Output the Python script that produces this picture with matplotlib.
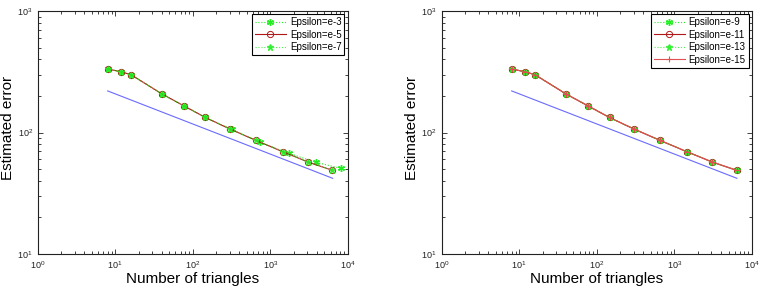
import matplotlib
matplotlib.use('Agg')
import matplotlib.pyplot as plt
from matplotlib.ticker import LogLocator, NullFormatter

plt.rcParams['font.family'] = ['Liberation Sans', 'DejaVu Sans']
plt.rcParams['mathtext.fontset'] = 'custom'
plt.rcParams['mathtext.rm'] = 'Liberation Sans'

# number of triangles / estimated error
tri = [8, 12, 16, 40, 78, 146, 300, 660, 1450, 3080, 6330]
err = [333, 316, 299, 208, 165, 133, 107, 86, 69.5, 57.2, 48.9]

# epsilon=e-3 run ends on slightly different meshes
tri_e3 = [8, 12, 16, 40, 78, 146, 320, 740, 1730, 3870, 8100]
err_e3 = [333, 316, 299, 208, 165, 133, 106, 83, 67.5, 57, 50.7]

# reference slope line
ref_tri = [8, 6400]
ref_err = [220, 42]

left_labels = ['Epsilon=e-3', 'Epsilon=e-5', 'Epsilon=e-7']
right_labels = ['Epsilon=e-9', 'Epsilon=e-11', 'Epsilon=e-13', 'Epsilon=e-15']

green = '#22ee22'
dred = '#b01818'
lred = '#e05050'
blue = '#6a6aff'
asterisk = (6, 2, 0)


def styleAxes(ax):
    ax.set_xscale('log')
    ax.set_yscale('log')
    ax.set_xlim(1, 1e4)
    ax.set_ylim(10, 1000)
    ax.xaxis.set_major_locator(LogLocator(base=10, numticks=10))
    ax.yaxis.set_major_locator(LogLocator(base=10, numticks=10))
    ax.xaxis.set_minor_locator(LogLocator(base=10, subs=range(2, 10), numticks=20))
    ax.yaxis.set_minor_locator(LogLocator(base=10, subs=range(2, 10), numticks=20))
    ax.xaxis.set_minor_formatter(NullFormatter())
    ax.yaxis.set_minor_formatter(NullFormatter())
    ax.tick_params(which='both', direction='in', top=True, right=True,
                   labelsize=6.5, colors='#222222', width=0.6)
    ax.tick_params(which='major', length=3.5)
    ax.tick_params(which='minor', length=2)
    for s in ax.spines.values():
        s.set_linewidth(0.8)
        s.set_color('#222222')
    ax.set_xlabel('Number of triangles', fontsize=11, labelpad=1)
    ax.set_ylabel('Estimated error', fontsize=11)
    ax.yaxis.set_label_coords(-0.072, 0.52)


fig = plt.figure(figsize=(7.64, 2.9), dpi=100)
ax1 = fig.add_axes([0.0493, 0.124, 0.4058, 0.838])
ax2 = fig.add_axes([0.578, 0.124, 0.4062, 0.838])

ax1.plot(ref_tri, ref_err, color=blue, lw=0.8)
ax1.plot(tri_e3, err_e3, ':', color=green, marker=asterisk, ms=5, mew=1.0, lw=0.8,
         label=left_labels[0])
ax1.plot(tri, err, '-', color=dred, marker='o', ms=4.5, mfc='none', mew=0.7, lw=0.8,
         label=left_labels[1])
ax1.plot(tri, err, ':', color=green, marker='*', ms=5, lw=0.8, alpha=0.8,
         label=left_labels[2])

ax2.plot(ref_tri, ref_err, color=blue, lw=0.8)
ax2.plot(tri, err, ':', color=green, marker=asterisk, ms=5, mew=1.0, lw=0.8,
         label=right_labels[0])
ax2.plot(tri, err, '-', color=dred, marker='o', ms=4.5, mfc='none', mew=0.7, lw=0.8,
         label=right_labels[1])
ax2.plot(tri, err, ':', color=green, marker='*', ms=5, lw=0.8, alpha=0.8,
         label=right_labels[2])
ax2.plot(tri, err, '-', color=lred, marker='+', ms=5, mew=0.8, lw=0.8,
         label=right_labels[3])

for ax in (ax1, ax2):
    styleAxes(ax)
    leg = ax.legend(loc='upper right', fontsize=7, fancybox=False, framealpha=1,
                    edgecolor='black', borderaxespad=0.35, handlelength=3.2,
                    handletextpad=0.4, borderpad=0.3, labelspacing=0.25)
    leg.get_frame().set_linewidth(0.8)

fig.savefig('out.png', dpi=100)
